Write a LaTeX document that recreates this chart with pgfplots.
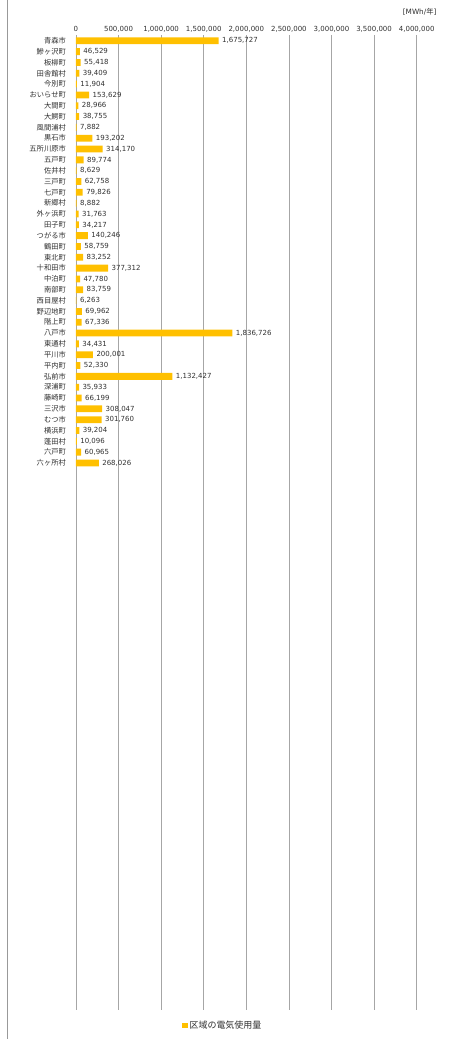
\documentclass[border=0pt]{standalone}
\usepackage{pgfplots}
\pgfplotsset{compat=1.18}
\usepackage{pgfplotstable}
\usepackage{fontspec}
\setmainfont{DejaVu Sans}
\newfontfamily\cjk{Noto Sans CJK JP}
\definecolor{barcolor}{HTML}{FFC000}
\definecolor{gridgray}{HTML}{A6A6A6}
\definecolor{txt}{HTML}{303030}
\pgfplotstableread{
idx value
0 1675727
1 46529
2 55418
3 39409
4 11904
5 153629
6 28966
7 38755
8 7882
9 193202
10 314170
11 89774
12 8629
13 62758
14 79826
15 8882
16 31763
17 34217
18 140246
19 58759
20 83252
21 377312
22 47780
23 83759
24 6263
25 69962
26 67336
27 1836726
28 34431
29 200001
30 52330
31 1132427
32 35933
33 66199
34 308047
35 301760
36 39204
37 10096
38 60965
39 268026
}\data
\begin{document}
\begin{tikzpicture}
\path (-76pt,-29pt) rectangle (385pt,1010pt);
\draw[gray!80, line width=0.8pt] (-69pt,-29pt) -- (-69pt,1010pt);
\begin{axis}[
  at={(0pt,0pt)}, anchor=south west,
  scale only axis, width=341pt, height=975pt,
  xbar, bar width=6.8pt,
  xmin=0, xmax=4000000,
  ymin=-0.5, ymax=89.5, y dir=reverse,
  xtick={0,500000,...,4000000},
  scaled x ticks=false,
  xticklabel pos=upper,
  ytick={0,...,39},
  yticklabels={青森市,鰺ヶ沢町,板柳町,田舎館村,今別町,おいらせ町,大間町,大鰐町,風間浦村,黒石市,五所川原市,五戸町,佐井村,三戸町,七戸町,新郷村,外ヶ浜町,田子町,つがる市,鶴田町,東北町,十和田市,中泊町,南部町,西目屋村,野辺地町,階上町,八戸市,東通村,平川市,平内町,弘前市,深浦町,藤崎町,三沢市,むつ市,横浜町,蓬田村,六戸町,六ヶ所村},
  yticklabel style={font=\cjk\fontsize{7.3}{8}\selectfont, text=txt, xshift=-6.5pt},
  xticklabel style={font=\fontsize{7}{8}\selectfont, text=txt},
  /pgf/number format/.cd, fixed, precision=0, 1000 sep={,}, assume math mode=true,
  /pgfplots/.cd,
  major tick length=0pt, tick style={draw=none},
  axis line style={draw=none},
  xmajorgrids, grid style={color=gridgray, line width=0.75pt},
  clip=false,
  nodes near coords,
  nodes near coords style={font=\fontsize{7}{8}\selectfont, text=txt},
  legend style={at={(axis description cs:0.431,-0.0164)}, anchor=center, draw=none, fill=none,
    font=\cjk\fontsize{9}{10}\selectfont, text=txt},
  legend image code/.code={\fill[barcolor] (0pt,-2.7pt) rectangle (5.4pt,2.7pt);},
]
\addplot[fill=barcolor, draw=none] table[x=value, y=idx] {\data};
\addlegendentry{区域の電気使用量}
\end{axis}
\node[anchor=east, inner sep=0pt, font=\fontsize{7.3}{8}\selectfont, text=txt] at (361pt,998pt) {[MWh/{\cjk 年}]};
\end{tikzpicture}
\end{document}
